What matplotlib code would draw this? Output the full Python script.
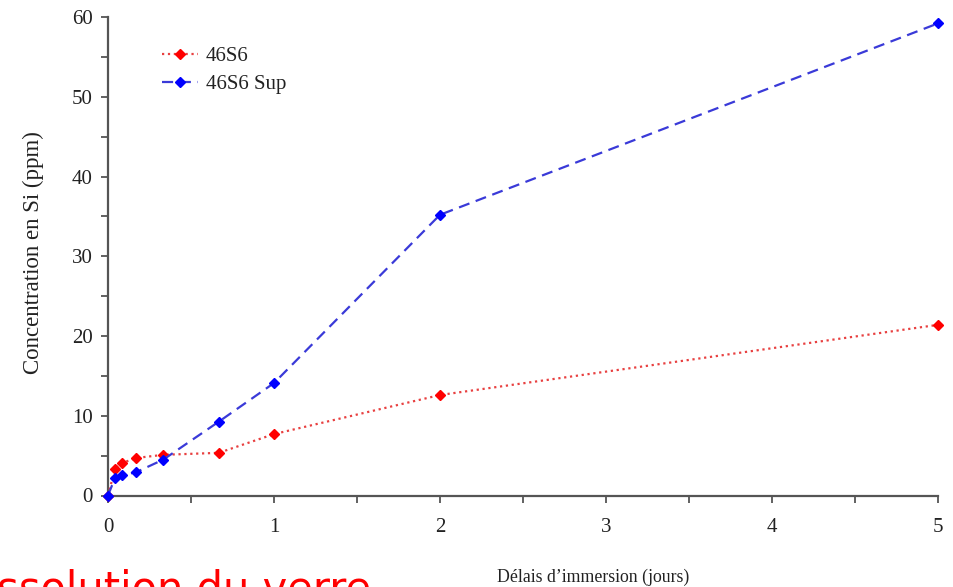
import matplotlib.pyplot as plt
from matplotlib.ticker import MultipleLocator

# immersion time (days) and Si concentration (ppm)
days = [0, 0.042, 0.083, 0.167, 0.333, 0.667, 1, 2, 5]
si_46s6 = [0, 3.35, 4.05, 4.7, 5.1, 5.35, 7.7, 12.6, 21.4]
si_46s6_sup = [0, 2.2, 2.55, 2.9, 4.5, 9.25, 14.1, 35.2, 59.2]

x_ticks = [0, 1, 2, 3, 4, 5]
y_ticks = [0, 10, 20, 30, 40, 50, 60]

plt.rcParams['font.family'] = ['Liberation Serif', 'DejaVu Serif']

fig = plt.figure(figsize=(9.54, 5.87), dpi=100)
ax = fig.add_axes([108 / 954, 1 - 495.5 / 587, 830 / 954, 478.5 / 587])

ax.plot(days, si_46s6, linestyle=':', color='#e84040', linewidth=1.6,
        marker='D', markersize=5, markerfacecolor='#ff0000',
        markeredgecolor='#ff0000', label='46S6', clip_on=False, zorder=3)
ax.plot(days, si_46s6_sup, linestyle=(0, (5, 3)), color='#3a3ad8', linewidth=1.6,
        marker='D', markersize=5, markerfacecolor='#0000ff',
        markeredgecolor='#0000ff', label='46S6 Sup', clip_on=False, zorder=4)

ax.set_xlim(0, 5)
ax.set_ylim(0, 60)
ax.set_xticks(x_ticks)
ax.set_yticks(y_ticks)
ax.xaxis.set_minor_locator(MultipleLocator(0.5))
ax.yaxis.set_minor_locator(MultipleLocator(5))

for side in ['top', 'right']:
    ax.spines[side].set_visible(False)
for side in ['left', 'bottom']:
    ax.spines[side].set_color('#555555')
    ax.spines[side].set_linewidth(1.6)

ax.tick_params(which='both', length=5, width=1.3, color='#555555',
               labelsize=15, labelcolor='#222222')
ax.tick_params(axis='x', which='both', pad=11)
ax.tick_params(axis='y', which='both', pad=6)

leg = ax.legend(loc='upper left', bbox_to_anchor=(0.055, 0.955), frameon=False,
                fontsize=15, handlelength=1.75, handletextpad=0.35,
                labelspacing=0.4, borderaxespad=0)
for t in leg.get_texts():
    t.set_color('#222222')

fig.text(593 / 954, 1 - 577 / 587, 'Délais d\u2019immersion (jours)', ha='center',
         va='center', fontsize=12.8, color='#222222')
fig.text(33 / 954, 1 - 253 / 587, 'Concentration en Si (ppm)', ha='center',
         va='center', rotation=90, fontsize=16.5, color='#222222')

fig.text(-3 / 954, -15 / 587, 'ssolution du verre', ha='left', va='baseline',
         fontsize=30, color='#ff0000', family='DejaVu Sans')

fig.savefig('out.png', dpi=100)
